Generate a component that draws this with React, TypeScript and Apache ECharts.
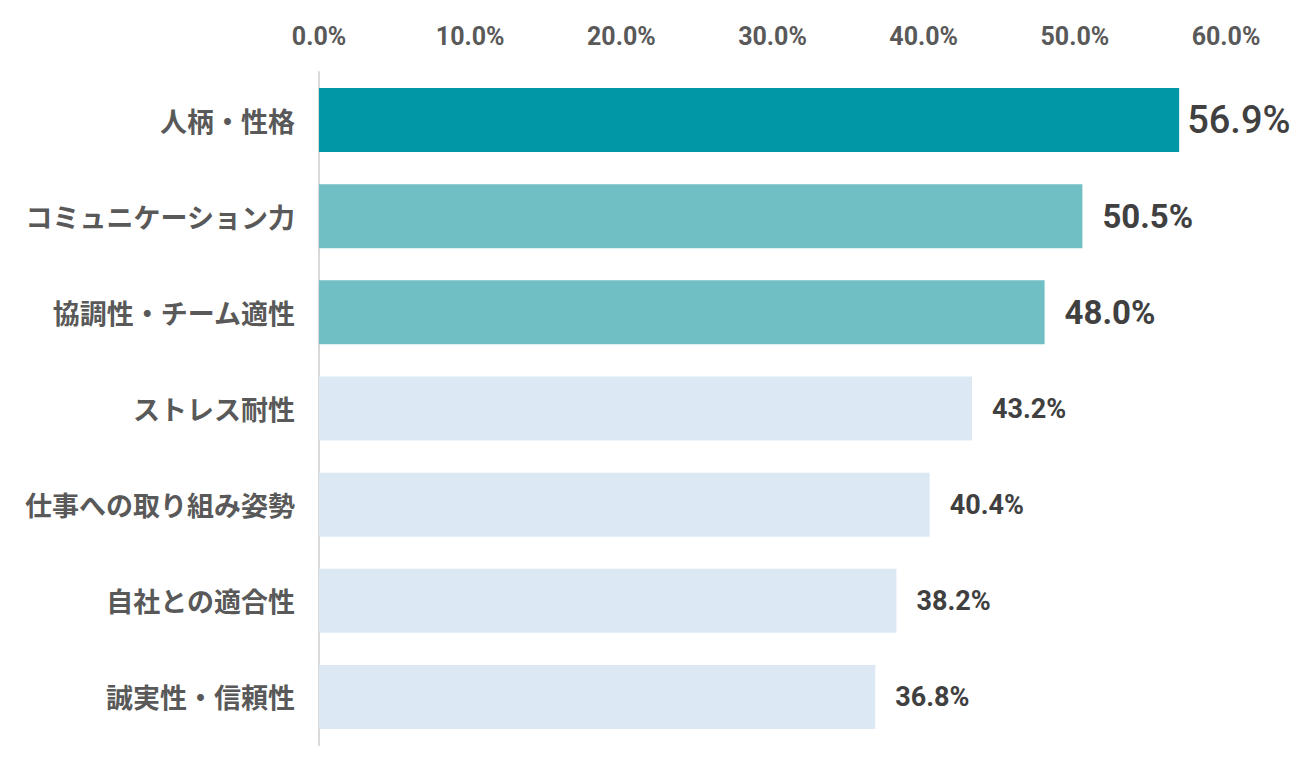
import React, { useEffect, useRef } from "react";
import * as echarts from "echarts";

const categories = [
  "人柄・性格",
  "コミュニケーション力",
  "協調性・チーム適性",
  "ストレス耐性",
  "仕事への取り組み姿勢",
  "自社との適合性",
  "誠実性・信頼性",
];
const values = [56.9, 50.5, 48.0, 43.2, 40.4, 38.2, 36.8];
const tickValues = [0, 10, 20, 30, 40, 50, 60];

const CJK = '"Noto Sans CJK JP", "Noto Sans", sans-serif';
const NUM = 'Roboto, "Liberation Sans", sans-serif';

function barColor(i: number) {
  if (i === 0) return "#0097A7";
  if (i <= 2) return "#70BFC5";
  return "#DCE9F5";
}
function labelStyle(i: number) {
  if (i === 0) return { fontSize: 38, distance: 8 };
  if (i <= 2) return { fontSize: 33, distance: 20 };
  return { fontSize: 27, distance: 20 };
}

export default function App() {
  const ref = useRef<HTMLDivElement>(null);
  useEffect(() => {
    if (!ref.current) return;
    const chart = echarts.init(ref.current, undefined, { renderer: "svg" });
    chart.setOption({
      animation: false,
      backgroundColor: "#ffffff",
      grid: { left: 319, right: 74, top: 72, bottom: 35, containLabel: false },
      xAxis: {
        type: "value",
        position: "top",
        min: tickValues[0],
        max: tickValues[tickValues.length - 1],
        interval: 10,
        axisLine: { show: false },
        axisTick: { show: false },
        splitLine: { show: false },
        axisLabel: {
          margin: 23,
          color: "#595959",
          fontSize: 25,
          fontWeight: "bold",
          fontFamily: NUM,
          formatter: (v: number) => v.toFixed(1) + "%",
        },
      },
      yAxis: {
        type: "category",
        inverse: true,
        data: categories,
        axisLine: { show: true, lineStyle: { color: "#d9d9d9", width: 2 } },
        axisTick: { show: false },
        axisLabel: {
          margin: 24,
          color: "#595959",
          fontSize: 27,
          fontWeight: "bold",
          fontFamily: CJK,
        },
      },
      series: [
        {
          type: "bar",
          barWidth: 64,
          data: values.map((v, i) => {
            const ls = labelStyle(i);
            return {
              value: v,
              itemStyle: { color: barColor(i) },
              label: {
                show: true,
                position: "right",
                distance: ls.distance,
                fontSize: ls.fontSize,
                fontWeight: i === 0 ? 500 : "bold",
                color: "#404040",
                fontFamily: NUM,
                formatter: (p: any) => Number(p.value).toFixed(1) + "%",
              },
            };
          }),
        },
      ],
    });
    return () => chart.dispose();
  }, []);
  return (
    <div
      ref={ref}
      style={{ position: "fixed", left: 0, top: 0, width: 1300, height: 780 }}
    />
  );
}
